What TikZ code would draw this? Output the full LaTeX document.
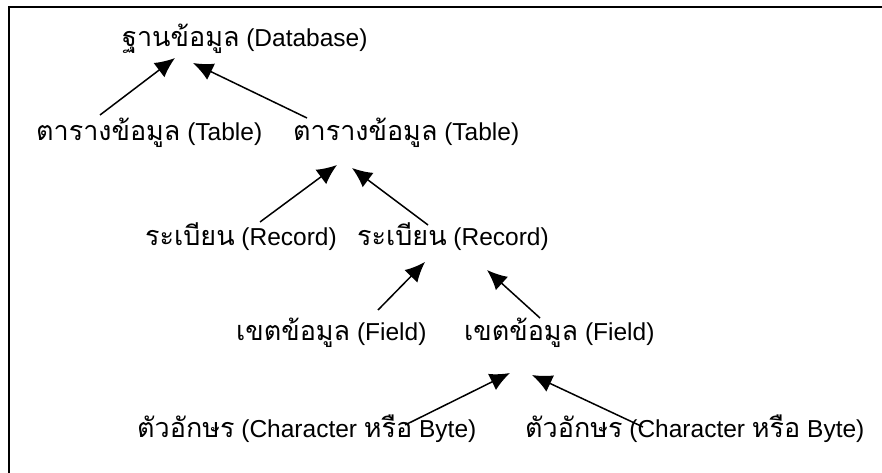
\documentclass[tikz,border=0pt]{standalone}
\usepackage{fontspec}
\setmainfont{Liberation Sans}
\newfontfamily\thaifont[Script=Thai,Scale=1.1]{Loma}
\newcommand{\thtext}[1]{{\thaifont #1}}
\usetikzlibrary{arrows.meta,calc}

\begin{document}
\begin{tikzpicture}[
        x=1pt, y=-1pt,
        every node/.style={anchor=base west, inner sep=0pt, font=\fontsize{24.5}{28}\selectfont},
        link/.style={draw, line width=1.5pt, -{Latex[length=20pt,width=18pt]}},
        frame/.style={draw, line width=2pt}
      ]

      \useasboundingbox (0,0) rectangle (882,473);
      \path[frame] (9,473) -- (9,7) -- (882,7);

      \node (db) at (122,47) {\thtext{ฐานข้อมูล} (Database)};
      \node (tl) at (36,141) {\thtext{ตารางข้อมูล} (Table)};
      \node (tr) at (293,141) {\thtext{ตารางข้อมูล} (Table)};
      \node (rl) at (145,245) {\thtext{ระเบียน} (Record)};
      \node (rr) at (357,245) {\thtext{ระเบียน} (Record)};
      \node (fl) at (236,340) {\thtext{เขตข้อมูล} (Field)};
      \node (fr) at (464,340) {\thtext{เขตข้อมูล} (Field)};
      \node (cl) at (137,437) {\thtext{ตัวอักษร} (Character \thtext{หรือ} Byte)};
      \node (cr) at (525,437) {\thtext{ตัวอักษร} (Character \thtext{หรือ} Byte)};

      \draw[link] ($(tl.base west)+(64,-26)$) -- ($(db.base west)+(53,11)$);
      \draw[link] ($(tr.base west)+(14,-23)$) -- ($(db.base west)+(71,16)$);
      \draw[link] ($(rl.base west)+(115,-23)$) -- ($(tr.base west)+(44,24)$);
      \draw[link] ($(rr.base west)+(71,-20)$) -- ($(tr.base west)+(59,27)$);
      \draw[link] ($(fl.base west)+(142,-30)$) -- ($(rr.base west)+(68,17)$);
      \draw[link] ($(fr.base west)+(76,-22)$) -- ($(rr.base west)+(130,25)$);
      \draw[link] ($(cl.base west)+(268,-12)$) -- ($(fr.base west)+(46,33)$);
      \draw[link] ($(cr.base west)+(118,-10)$) -- ($(fr.base west)+(68,35)$);

      \end{tikzpicture}
\end{document}
